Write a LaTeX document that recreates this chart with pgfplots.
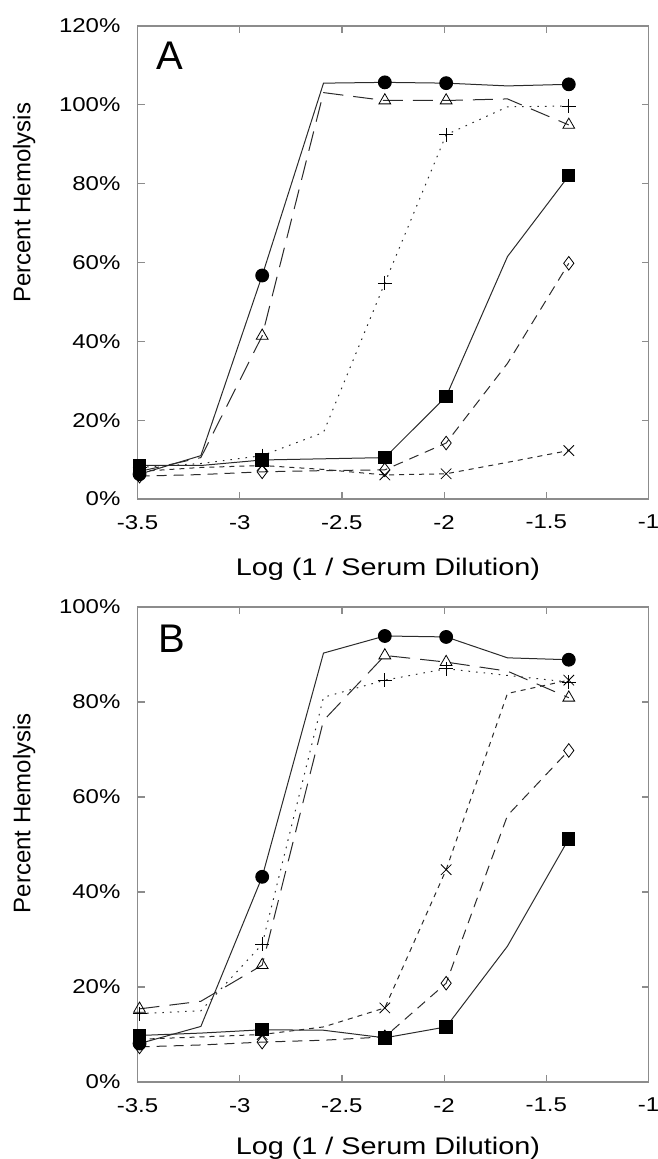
\documentclass[border=0pt]{standalone}
\usepackage{pgfplots}
\pgfplotsset{compat=1.18}
\usepackage{fontspec}
\setmainfont[FakeStretch=1.2]{Liberation Sans}
\newfontfamily\plainsans{Liberation Sans}
\definecolor{AxGray}{HTML}{8C8C8C}
\definecolor{LineGray}{HTML}{2B2B2B}

\pgfplotsset{
  panel/.style={
    scale only axis, width=255.5pt,
    xmin=-3.5, xmax=-1, ymin=0,
    xtick={-3.5,-3,-2.5,-2,-1.5,-1},
    xticklabels={-3.5,-3,-2.5,-2,-1.5,-1},
    axis line style={AxGray,line width=0.6pt},
    tick style={AxGray,line width=0.6pt},
    major tick length=3.5pt,
    tick align=inside,
    ticklabel style={font=\fontsize{10}{12}\selectfont},
    xticklabel style={yshift=-4.5pt},
    yticklabel style={xshift=-5pt},
    xlabel={Log (1 / Serum Dilution)},
    xlabel style={font=\fontsize{12}{14}\selectfont,at={(axis description cs:0.49,0)},anchor=north,yshift=-26pt},
    ylabel={Percent Hemolysis},
    clip=false,
    every axis plot/.append style={line width=0.5pt,LineGray,mark indices={1,3,5,6,8}},
  },
  sCirc/.style={solid,mark=*,mark size=3.2pt,mark options={solid,fill=black,draw=black}},
  sTri/.style={dash pattern=on 10pt off 5pt,mark=triangle,mark size=3.4pt,mark options={solid,fill=white,draw=black,line width=0.4pt}},
  sPlus/.style={dash pattern=on 0.8pt off 3pt,mark=+,mark size=3.5pt,mark options={solid,draw=black,line width=0.4pt}},
  sSq/.style={solid,mark=square*,mark size=3.1pt,mark options={solid,fill=black,draw=black}},
  sDia/.style={dash pattern=on 5pt off 3.5pt,mark=diamond,mark size=3.4pt,mark options={solid,fill=white,draw=black,line width=0.4pt}},
  sX/.style={dash pattern=on 2.5pt off 2.5pt,mark=x,mark size=3.7pt,mark options={solid,draw=black,line width=0.4pt}},
}

\begin{document}
\begin{tikzpicture}
% panel A
\begin{axis}[panel,at={(68.75pt,-249.5pt)},anchor=south west,height=236.5pt,ymax=120,
  ytick={0,20,40,60,80,100,120},
  yticklabels={0\%,20\%,40\%,60\%,80\%,100\%,120\%},
  ylabel style={font=\plainsans\fontsize{12}{14}\selectfont,at={(axis description cs:-0.222,0.626)},anchor=center}]
  \addplot[sX] coordinates {(-3.49,7.0) (-3.19,8.0) (-2.89,8.5) (-2.59,7.5) (-2.29,6.1) (-1.99,6.4) (-1.69,9.3) (-1.39,12.3)};
  \addplot[sDia] coordinates {(-3.49,5.8) (-3.19,6.2) (-2.89,6.9) (-2.59,7.2) (-2.29,7.4) (-1.99,14.2) (-1.69,34.4) (-1.39,59.8)};
  \addplot[sPlus] coordinates {(-3.49,8.0) (-3.19,9.0) (-2.89,11.0) (-2.59,16.9) (-2.29,54.8) (-1.99,92.4) (-1.69,99.5) (-1.39,99.7)};
  \addplot[sTri] coordinates {(-3.49,7.0) (-3.19,10.5) (-2.89,41.4) (-2.59,103.1) (-2.29,101.1) (-1.99,101.1) (-1.69,101.5) (-1.39,94.9)};
  \addplot[sSq] coordinates {(-3.49,8.5) (-3.19,8.5) (-2.89,9.9) (-2.59,10.2) (-2.29,10.5) (-1.99,26.0) (-1.69,61.5) (-1.39,82.0)};
  \addplot[sCirc] coordinates {(-3.49,6.3) (-3.19,11.0) (-2.89,56.7) (-2.59,105.5) (-2.29,105.7) (-1.99,105.5) (-1.69,104.8) (-1.39,105.2)};
  \node[font=\plainsans\fontsize{20}{24}\selectfont] at (rel axis cs:0.0626,0.9366) {A};
\end{axis}
% panel B
\begin{axis}[panel,at={(68.75pt,-541pt)},anchor=south west,height=237.5pt,ymax=100,
  ytick={0,20,40,60,80,100},
  yticklabels={0\%,20\%,40\%,60\%,80\%,100\%},
  xlabel style={yshift=2pt},
  ylabel style={font=\plainsans\fontsize{12}{14}\selectfont,at={(axis description cs:-0.222,0.566)},anchor=center}]
  \addplot[sX] coordinates {(-3.49,9.0) (-3.19,9.5) (-2.89,10.0) (-2.59,11.6) (-2.29,15.6) (-1.99,44.7) (-1.69,81.8) (-1.39,84.6)};
  \addplot[sDia] coordinates {(-3.49,7.4) (-3.19,7.8) (-2.89,8.4) (-2.59,8.8) (-2.29,9.5) (-1.99,20.8) (-1.69,56.1) (-1.39,69.8)};
  \addplot[sPlus] coordinates {(-3.49,14.4) (-3.19,15.0) (-2.89,29.0) (-2.59,81.0) (-2.29,84.6) (-1.99,87.0) (-1.69,85.6) (-1.39,84.2)};
  \addplot[sTri] coordinates {(-3.49,15.4) (-3.19,17.0) (-2.89,24.6) (-2.59,76.1) (-2.29,89.8) (-1.99,88.4) (-1.69,86.5) (-1.39,80.9)};
  \addplot[sSq] coordinates {(-3.49,9.8) (-3.19,10.3) (-2.89,11.0) (-2.59,10.9) (-2.29,9.3) (-1.99,11.6) (-1.69,28.6) (-1.39,51.2)};
  \addplot[sCirc] coordinates {(-3.49,8.1) (-3.19,11.7) (-2.89,43.2) (-2.59,90.3) (-2.29,93.9) (-1.99,93.7) (-1.69,89.3) (-1.39,88.9)};
  \node[font=\plainsans\fontsize{20}{24}\selectfont] at (rel axis cs:0.067,0.933) {B};
\end{axis}
\pgfresetboundingbox
\useasboundingbox (0pt,0pt) rectangle (328.5pt,-579.5pt);
\end{tikzpicture}
\end{document}
